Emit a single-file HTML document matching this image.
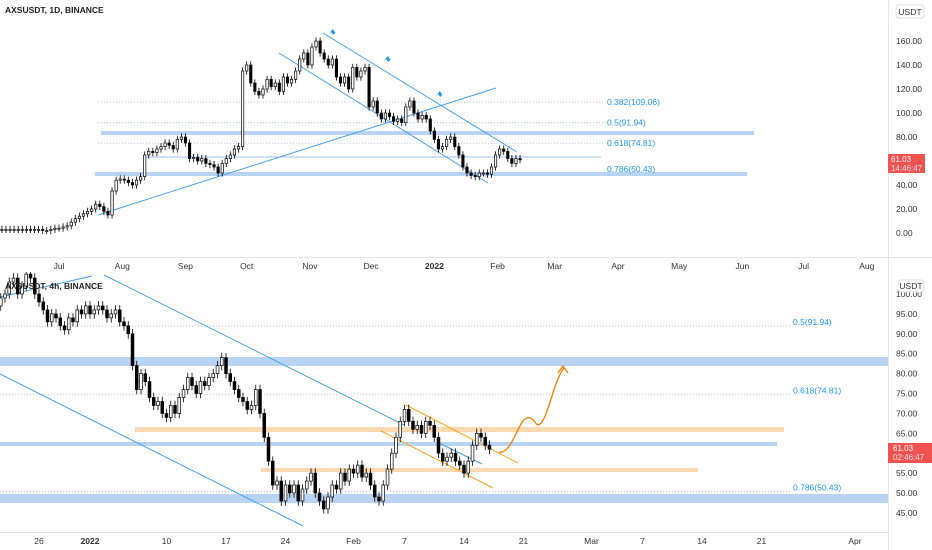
<!DOCTYPE html>
<html><head><meta charset="utf-8">
<style>
html,body{margin:0;padding:0;background:#fff;}
svg{display:block;font-family:"Liberation Sans",sans-serif;}
</style></head>
<body>
<svg id="c" width="932" height="550" viewBox="0 0 932 550">
  <rect width="932" height="550" fill="#fff"/>
  <line x1="888.5" y1="0" x2="888.5" y2="550" stroke="#e6e6ea"/>
  <line x1="0" y1="257.5" x2="932" y2="257.5" stroke="#e6e6ea"/>
  <g id="top"></g>
  <g id="bot"></g>
</svg>
<script>
// ---------- TOP (1D) data ----------
const topTicks = [160,140,120,100,80,60,40,20,0];
const topTickLabels = ["160.00","140.00","120.00","100.00","80.00","60.00","40.00","20.00","0.00"];
const topMonths = ["Jul","Aug","Sep","Oct","Nov","Dec","2022","Feb","Mar","Apr","May","Jun","Jul","Aug"];
const topMonthDays = [0,31,62,92,123,153,184,215,243,274,304,335,365,396];
// two-day closes starting Jun 1 (day -30)
const topCloses = [3,3,3,3,3,3,3,3,3,3,3,2,2,3,4,
 4,5,6,9,12,14,16,18,20,24,22,18,15,35,44,45,
 44,42,40,44,47,65,68,67,70,72,75,73,70,78,80,
 75,62,63,60,62,58,57,55,50,58,62,65,70,72,
 135,140,125,118,115,120,128,122,125,118,130,125,128,135,145,150,
 140,155,160,150,145,140,145,130,125,130,120,138,130,135,138,
 105,110,100,95,100,97,93,95,92,105,110,100,95,98,95,
 85,78,70,72,78,80,72,65,55,50,48,47,50,50,49,
 55,65,70,68,62,58,62,61];
const topFibLevels = [109.06,91.94,74.81];
const topFibLabels = ["0.382(109.06)","0.5(91.94)","0.618(74.81)"];

// ---------- BOTTOM (4h) data ----------
const botTicks = [100,95,90,85,80,75,70,65,60,55,50,45];
const botTickLabels = ["100.00","95.00","90.00","85.00","80.00","75.00","70.00","65.00","60.00","55.00","50.00","45.00"];
const botDateLabels = ["26","2022","10","17","24","Feb","7","14","21","Mar","7","14","21","Apr"];
const botDateDays = [-6,0,9,16,23,31,37,44,51,59,65,72,79,90];
// half-day closes starting Dec 21 (day -11)
const botCloses = [97,99,100,103,104,100,102,105,
 104,100,98,96,93,95,94,92,91,94,93,96,95,97,
 95,96,97,96,94,95,96,93,92,90,82,76,
 80,78,74,72,73,70,
 69,72,70,74,76,79,77,75,
 78,77,79,80,82,84,80,78,
 76,74,73,71,72,76,
 70,64,58,52,53,48,52,50,
 52,48,51,53,55,50,48,46,49,52,51,55,53,56,
 55,57,54,55,52,49,48,52,56,60,64,68,
 71,68,66,67,65,68,67,64,60,58,59,60,58,57,
 55,58,62,65,64,62,61];
const botFibLevels = [91.94,74.81,50.43];
const botFibLabels = ["0.5(91.94)","0.618(74.81)","0.786(50.43)"];

const NS="http://www.w3.org/2000/svg";
function mk(parent,tag,attrs){const e=document.createElementNS(NS,tag);for(const k in attrs)e.setAttribute(k,attrs[k]);parent.appendChild(e);return e;}

// axis functions
const tY = p => 233 - 1.2*p;
const tX = d => 59 + d*2.04;
const bY = p => 294 + (100-p)*3.98;
const bX = d => 90 + d*8.5;

function candles(g,closes,start,step,X,Y,w,wick,name){
  let prev=closes[0];
  closes.forEach((c,i)=>{
    const o=prev; prev=c;
    const x=X(start+i*step);
    const hi=Math.max(o,c)+wick, lo=Math.min(o,c)-wick;
    const body = c>=o ? "#ffffff" : "#000000";
    const l=mk(g,"line",{x1:x,x2:x,y1:Y(hi),y2:Y(lo),stroke:"#000","stroke-width":0.8});
    
    
    const top=Math.min(Y(o),Y(c)), h=Math.max(1,Math.abs(Y(o)-Y(c)));
    const r=mk(g,"rect",{x:x-w/2,y:top,width:w,height:h,fill:body,stroke:"#000","stroke-width":0.7});
    
    
  });
}

// ---------- TOP PANE ----------
const T=document.getElementById('top');
let e;
e=mk(T,"rect",{x:101,y:131,width:653,height:4,fill:"#b9d3f3"});  
e=mk(T,"rect",{x:95,y:172,width:652,height:4,fill:"#b9d3f3"});  
topFibLevels.forEach((v,i)=>{
  const y=tY(v);
  const l=mk(T,"line",{x1:98,x2:606,y1:y,y2:y,stroke:"#9ec3ee","stroke-width":0.8,"stroke-dasharray":"1 2"});
  
  
  const t=mk(T,"text",{x:607,y:y+3,"font-size":"8.5",fill:"#2196f3"}); t.textContent=topFibLabels[i];
  
  
});
e=mk(T,"line",{x1:146,x2:601,y1:157,y2:157,stroke:"#9ec3ee","stroke-width":1});  
e=mk(T,"text",{x:607,y:172,"font-size":"8.5",fill:"#2196f3"}); e.textContent="0.786(50.43)";  
e=mk(T,"line",{x1:98,y1:215,x2:496,y2:88,stroke:"#4a9fe8","stroke-width":1});  
e=mk(T,"line",{x1:323,y1:33,x2:517,y2:152,stroke:"#4a9fe8","stroke-width":1});  
e=mk(T,"line",{x1:279,y1:53,x2:488,y2:183,stroke:"#4a9fe8","stroke-width":1});  
[[330,33],[385,60],[437,95]].forEach(p=>{
  const f=mk(T,"text",{x:p[0]-2,y:p[1]+1,"font-size":"8",fill:"#2196f3",transform:`rotate(40 ${p[0]} ${p[1]})`}); f.textContent="⚑";
  
  
});
candles(T,topCloses,-30,2,tX,tY,2.4,3,'daily-candle');
topTicks.forEach((v,i)=>{
  const t=mk(T,"text",{x:896,y:tY(v)+3,"font-size":"8.5",fill:"#333"}); t.textContent=topTickLabels[i];
  
  
});
topMonths.forEach((m,i)=>{
  const t=mk(T,"text",{x:tX(topMonthDays[i]),y:269,"font-size":"8.5",fill:"#333","text-anchor":"middle","font-weight":m=="2022"?"bold":"normal"}); t.textContent=m;
  
  
});
e=mk(T,"rect",{x:889,y:0,width:43,height:20,fill:"#fff"});  
e=mk(T,"rect",{x:896,y:5,width:28,height:13,rx:3,fill:"#fff",stroke:"#ddd"});  
e=mk(T,"text",{x:910,y:15,"font-size":"8.5",fill:"#333","text-anchor":"middle"}); e.textContent="USDT";  
e=mk(T,"rect",{x:888,y:154,width:37,height:19,fill:"#ef5350"});  
e=mk(T,"text",{x:891,y:162,"font-size":"8",fill:"#fff"}); e.textContent="61.03";  
e=mk(T,"text",{x:891,y:171,"font-size":"8",fill:"#fde"}); e.textContent="14:46:47";  
e=mk(T,"text",{x:5,y:13,"font-size":"8.5","font-weight":"bold",fill:"#222"}); e.textContent="AXSUSDT, 1D, BINANCE";  

// ---------- BOTTOM PANE ----------
const B=document.getElementById('bot');
const cp=mk(B,"clipPath",{id:"bc"}); mk(cp,"rect",{x:0,y:272,width:888,height:258});
const BG=mk(B,"g",{"clip-path":"url(#bc)"});


e=mk(BG,"rect",{x:0,y:357,width:888,height:9,fill:"#b9d3f3"});  
e=mk(BG,"rect",{x:0,y:442,width:777,height:4,fill:"#b9d3f3"});  
e=mk(BG,"rect",{x:0,y:494,width:888,height:9,fill:"#b9d3f3"});  
e=mk(BG,"rect",{x:135,y:427,width:649,height:5,fill:"#fbd9b2"});  
e=mk(BG,"rect",{x:261,y:468,width:437,height:4,fill:"#fbd9b2"});  
botFibLevels.forEach((v,i)=>{
  const y=bY(v);
  const l=mk(BG,"line",{x1:0,x2:792,y1:y,y2:y,stroke:"#9ec3ee","stroke-width":0.8,"stroke-dasharray":"1 2"});
  
  
  const t=mk(BG,"text",{x:793,y:y-1,"font-size":"8.5",fill:"#2196f3"}); t.textContent=botFibLabels[i];
  
  
});
e=mk(BG,"line",{x1:104,y1:275,x2:404,y2:425,stroke:"#4a9fe8","stroke-width":1});  
e=mk(BG,"line",{x1:0,y1:374,x2:303,y2:526,stroke:"#4a9fe8","stroke-width":1});  
e=mk(BG,"line",{x1:0,y1:297,x2:92,y2:276,stroke:"#4a9fe8","stroke-width":1});  
e=mk(BG,"line",{x1:406,y1:405,x2:518,y2:463,stroke:"#f5a623","stroke-width":1});  
e=mk(BG,"line",{x1:381,y1:431,x2:493,y2:488,stroke:"#f5a623","stroke-width":1});  
e=mk(BG,"line",{x1:437,y1:442,x2:482,y2:464,stroke:"#4a9fe8","stroke-width":1});  
candles(BG,botCloses,-11,0.5,bX,bY,2.8,1.2,'4h-candle');
e=mk(BG,"path",{d:"M499 452 C512 455 518 420 527 418 C535 416 535 428 540 424 C548 418 554 380 564 368",fill:"none",stroke:"#f57c00","stroke-width":1.3});  
e=mk(BG,"path",{d:"M558 373 L563 366 L568 373",fill:"none",stroke:"#f57c00","stroke-width":1.3});  
e=mk(B,"text",{x:5,y:289,"font-size":"8.5","font-weight":"bold",fill:"#222"}); e.textContent="AXSUSDT, 4h, BINANCE";  
botTicks.forEach((v,i)=>{
  const t=mk(B,"text",{x:896,y:bY(v)+3,"font-size":"8.5",fill:"#333"}); t.textContent=botTickLabels[i];
  
  
});
botDateLabels.forEach((m,i)=>{
  const t=mk(B,"text",{x:bX(botDateDays[i]),y:544,"font-size":"8.5",fill:"#333","text-anchor":"middle","font-weight":m=="2022"?"bold":"normal"}); t.textContent=m;
  
  
});
e=mk(B,"line",{x1:0,y1:532.5,x2:888,y2:532.5,stroke:"#e6e6ea"});  
e=mk(B,"rect",{x:898,y:280,width:26,height:12,rx:3,fill:"#fff",stroke:"#ddd"});  
e=mk(B,"text",{x:911,y:289,"font-size":"8.5",fill:"#333","text-anchor":"middle"}); e.textContent="USDT";  
e=mk(B,"rect",{x:888,y:443,width:44,height:20,fill:"#ef5350"});  
e=mk(B,"text",{x:893,y:451,"font-size":"8",fill:"#fff"}); e.textContent="61.03";  
e=mk(B,"text",{x:893,y:460,"font-size":"8",fill:"#fde"}); e.textContent="02:46:47";  
</script>
</body></html>
